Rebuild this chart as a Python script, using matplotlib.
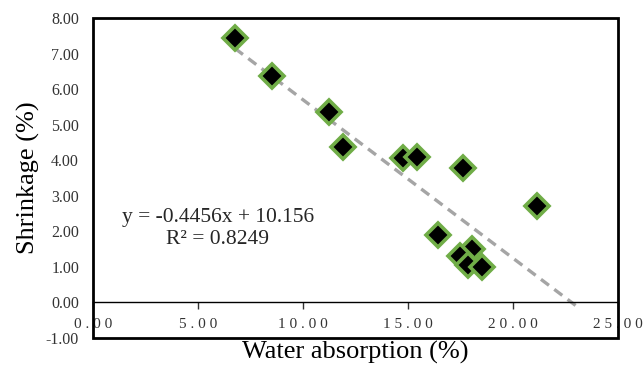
import numpy as np
import matplotlib
matplotlib.use('Agg')
import matplotlib.pyplot as plt
import matplotlib.ticker as mtick
from matplotlib.patches import Rectangle

# Water absorption (%) vs shrinkage (%)
water_absorption = [6.76, 8.52, 11.24, 11.90, 14.76, 15.43, 17.62, 21.14, 16.43, 18.05, 17.48, 17.87, 18.52]
shrinkage = [7.44, 6.37, 5.35, 4.37, 4.06, 4.08, 3.77, 2.70, 1.89, 1.49, 1.30, 1.04, 0.99]

slope = -0.4456
intercept = 10.156
r_squared = 0.8249
forecast_forward = 2.0

x_ticks = [0, 5, 10, 15, 20, 25]
y_ticks = [-1, 0, 1, 2, 3, 4, 5, 6, 7, 8]

plt.rcParams['font.family'] = ['Liberation Serif', 'DejaVu Serif']

fig = plt.figure(figsize=(6.43, 3.69), dpi=100)
ax = fig.add_axes([93 / 643, 31 / 369, 525 / 643, 320 / 369])

# trendline (Excel style, forecast forward)
x_line = np.array([min(water_absorption), max(water_absorption) + forecast_forward])
ax.plot(x_line, slope * x_line + intercept, linestyle=(0, (3, 2)), color='#A5A5A5', lw=2.4, zorder=2)

ax.plot(water_absorption, shrinkage, linestyle='none', marker='D', markersize=12,
        markerfacecolor='black', markeredgecolor='#70AD47', markeredgewidth=2.6, zorder=3)

ax.set_xlim(0, 25)
ax.set_ylim(-1, 8)
ax.set_xticks(x_ticks)
ax.set_yticks(y_ticks)
ax.xaxis.set_major_formatter(mtick.FuncFormatter(lambda v, p: ' '.join(f'{v:.2f}')))
ax.yaxis.set_major_formatter(mtick.FormatStrFormatter('%.2f'))

# x axis sits at y=0, outer frame drawn separately
ax.spines['bottom'].set_position(('data', 0))
ax.spines['bottom'].set_linewidth(1.0)
for s in ['top', 'right', 'left']:
    ax.spines[s].set_visible(False)
ax.add_patch(Rectangle((0, 0), 1, 1, transform=ax.transAxes, fill=False,
                       edgecolor='black', lw=2.0, clip_on=False, zorder=5))

ax.tick_params(axis='x', direction='out', length=5, width=1, pad=6, labelsize=11, colors='#333333')
ax.tick_params(axis='y', length=0, pad=10, labelsize=11.5, colors='#333333')

ax.set_xlabel('Water absorption (%)', fontsize=19)
ax.set_ylabel('Shrinkage (%)', fontsize=19, labelpad=4)
ax.xaxis.label.set_va('center')
ax.xaxis.set_label_coords(0.5, -0.046)

ax.text(5.95, 2.08, f'y = {slope}x + {intercept}\nR² = {r_squared}', ha='center', va='center',
        fontsize=15.5, linespacing=1.15, color='#262626')

fig.savefig('out.png', dpi=100)
